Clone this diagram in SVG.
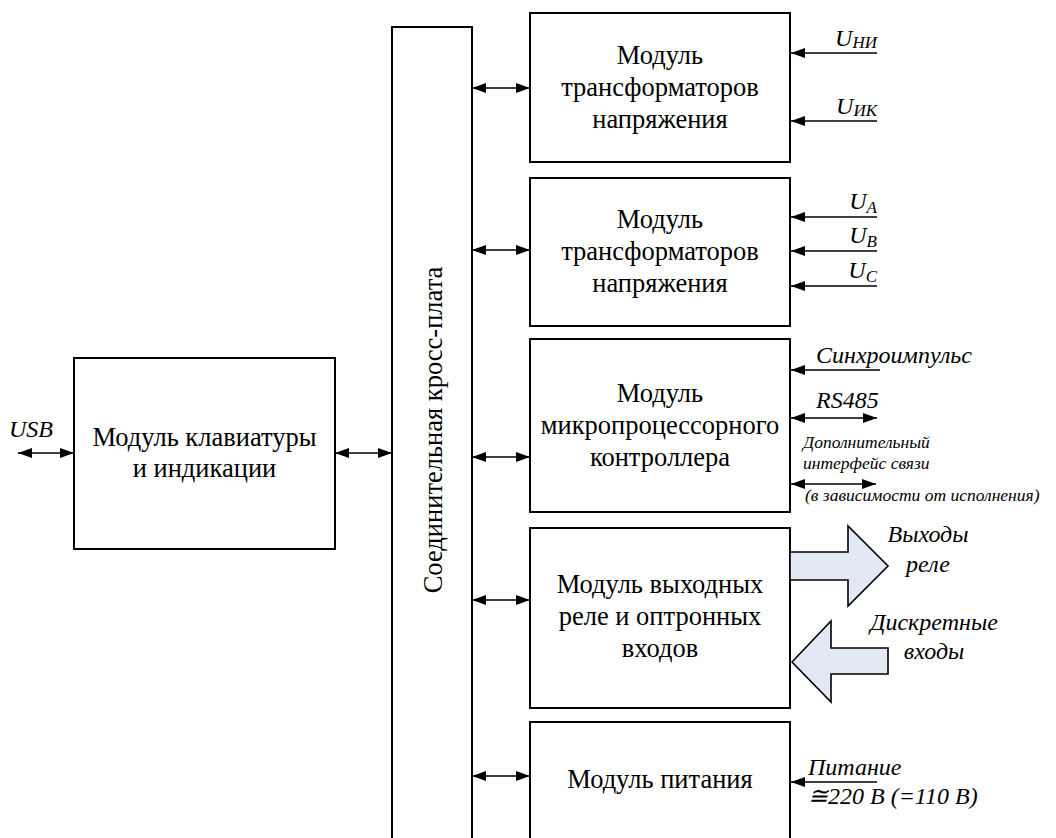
<svg xmlns="http://www.w3.org/2000/svg" width="1056" height="838" viewBox="0 0 1056 838">
<style>
.box{fill:#fff;stroke:#000;stroke-width:2}
.t{font-family:'Liberation Serif','DejaVu Serif',serif;font-size:26.5px;fill:#000;text-anchor:middle}
.i{font-family:'Liberation Serif','DejaVu Serif',serif;font-style:italic;font-size:24px;fill:#000}
.s{font-family:'Liberation Serif','DejaVu Serif',serif;font-style:italic;font-size:17.5px;fill:#000}
.ln{stroke:#000;stroke-width:1.6;fill:none}
.big{fill:#e2e9f4;stroke:#000;stroke-width:1.6;stroke-linejoin:miter}
</style>
<defs>
<marker id="ah" viewBox="0 0 14 10" refX="14" refY="5" markerWidth="14" markerHeight="10" markerUnits="userSpaceOnUse" orient="auto-start-reverse">
<path d="M0,0 L14,5 L0,10 z" fill="#000"/>
</marker>
</defs>
<rect width="1056" height="838" fill="#fff"/>

<g id="cross-plate">
<rect class="box" x="392" y="27" width="80" height="830"/>
<text class="t" transform="translate(442,430) rotate(-90)">Соединительная кросс-плата</text>
</g>

<g id="kbd">
<rect class="box" x="74" y="358" width="261" height="191"/>
<text class="t" x="204.5" y="446">Модуль клавиатуры</text>
<text class="t" x="204.5" y="477">и индикации</text>
</g>

<g id="vt1">
<rect class="box" x="530" y="13" width="260" height="149"/>
<text class="t" x="660" y="64">Модуль</text>
<text class="t" x="660" y="96">трансформаторов</text>
<text class="t" x="660" y="128">напряжения</text>
</g>

<g id="vt2">
<rect class="box" x="530" y="178" width="260" height="148"/>
<text class="t" x="660" y="228">Модуль</text>
<text class="t" x="660" y="260">трансформаторов</text>
<text class="t" x="660" y="292">напряжения</text>
</g>

<g id="mcu">
<rect class="box" x="530" y="339" width="260" height="173"/>
<text class="t" x="660" y="402">Модуль</text>
<text class="t" x="660" y="434">микропроцессорного</text>
<text class="t" x="660" y="466">контроллера</text>
</g>

<g id="relay">
<rect class="box" x="530" y="528" width="260" height="180"/>
<text class="t" x="660" y="593">Модуль выходных</text>
<text class="t" x="660" y="625">реле и оптронных</text>
<text class="t" x="660" y="657">входов</text>
</g>

<g id="power">
<rect class="box" x="530" y="722" width="260" height="140"/>
<text class="t" x="660" y="788">Модуль питания</text>
</g>

<g id="connectors">
<path class="ln" d="M18,453 H74" marker-start="url(#ah)" marker-end="url(#ah)"/>
<path class="ln" d="M335,453 H392" marker-start="url(#ah)" marker-end="url(#ah)"/>
<path class="ln" d="M472,88 H530" marker-start="url(#ah)" marker-end="url(#ah)"/>
<path class="ln" d="M472,250 H530" marker-start="url(#ah)" marker-end="url(#ah)"/>
<path class="ln" d="M472,457 H530" marker-start="url(#ah)" marker-end="url(#ah)"/>
<path class="ln" d="M472,600 H530" marker-start="url(#ah)" marker-end="url(#ah)"/>
<path class="ln" d="M472,776 H530" marker-start="url(#ah)" marker-end="url(#ah)"/>

<path class="ln" d="M877,53 H791" marker-end="url(#ah)"/>
<path class="ln" d="M877,121 H791" marker-end="url(#ah)"/>
<path class="ln" d="M877,217 H791" marker-end="url(#ah)"/>
<path class="ln" d="M877,251 H791" marker-end="url(#ah)"/>
<path class="ln" d="M877,286 H791" marker-end="url(#ah)"/>
<path class="ln" d="M880,370 H791" marker-end="url(#ah)"/>
<path class="ln" d="M791,418 H877" marker-start="url(#ah)" marker-end="url(#ah)"/>
<path class="ln" d="M791,484 H876" marker-start="url(#ah)" marker-end="url(#ah)"/>
<path class="ln" d="M877,782 H791" marker-end="url(#ah)"/>

<polygon class="big" points="790,552 848,552 848,526 888,566 848,606 848,580 790,580"/>
<polygon class="big" points="792,662 831,621 831,648 888,648 888,674 831,674 831,702"/>
</g>

<g id="labels">
<text class="i" x="9" y="437">USB</text>
<text class="i" x="877" y="46" text-anchor="end">U<tspan font-size="17" dy="2">НИ</tspan></text>
<text class="i" x="877" y="114" text-anchor="end">U<tspan font-size="17" dy="2">ИК</tspan></text>
<text class="i" x="877" y="209" text-anchor="end">U<tspan font-size="17" dy="4">A</tspan></text>
<text class="i" x="877" y="243" text-anchor="end">U<tspan font-size="17" dy="4">B</tspan></text>
<text class="i" x="877" y="278" text-anchor="end">U<tspan font-size="17" dy="4">C</tspan></text>
<text class="i" x="816" y="363">Синхроимпульс</text>
<text class="i" x="816" y="408">RS485</text>
<text class="s" x="803" y="448">Дополнительный</text>
<text class="s" x="803" y="469">интерфейс связи</text>
<text class="s" x="805" y="501">(в зависимости от исполнения)</text>
<text class="i" x="928" y="542" text-anchor="middle">Выходы</text>
<text class="i" x="928" y="572" text-anchor="middle">реле</text>
<text class="i" x="934" y="630" text-anchor="middle">Дискретные</text>
<text class="i" x="934" y="659" text-anchor="middle">входы</text>
<text class="i" x="808" y="775">Питание</text>
<text class="i" x="808" y="804">≅220 В (=110 В)</text>
</g>
</svg>
